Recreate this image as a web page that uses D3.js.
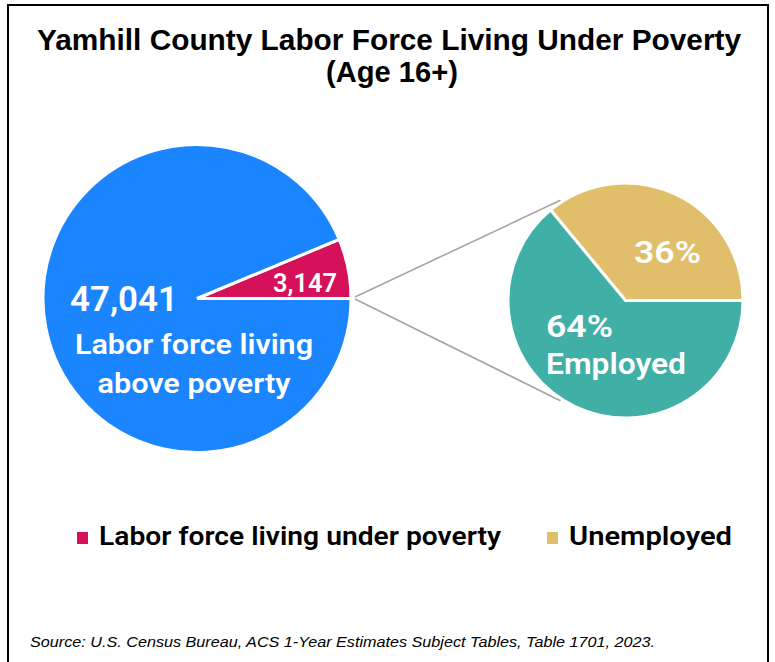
<!DOCTYPE html>
<html>
<head>
<meta charset="utf-8">
<script src="https://cdn.jsdelivr.net/npm/d3@7"></script>
<style>
  html, body { margin: 0; padding: 0; background: #fff; }
  svg { display: block; }
</style>
</head>
<body>
<script>
// ---- data ----
const mainCategories = ["Labor force living under poverty", "Labor force living above poverty"];
const mainValues = [3147, 47041];
const mainColors = ["#D41159", "#1A85FF"];

const subCategories = ["Unemployed", "Employed"];
const subValues = [36, 64];
const subColors = ["#E1BE6A", "#40B0A6"];

const legendItems = ["Labor force living under poverty", "Unemployed"];
const legendColors = ["#D41159", "#E1BE6A"];

const titleLines = ["Yamhill County Labor Force Living Under Poverty", "(Age 16+)"];
const sourceText = "Source: U.S. Census Bureau, ACS 1-Year Estimates Subject Tables, Table 1701, 2023.";

// ---- layout ----
const W = 775, H = 662;
const svg = d3.select("body").append("svg").attr("width", W).attr("height", H);

svg.append("rect").attr("x", 8).attr("y", 5).attr("width", 760).attr("height", 680)
  .attr("fill", "#fff").attr("stroke", "#000").attr("stroke-width", 2);

const labelFont = "Roboto, 'Noto Sans', sans-serif";

// title
svg.append("text").attr("x", 389).attr("y", 50)
  .attr("text-anchor", "middle").attr("font-family", "'Liberation Sans', Arial, sans-serif")
  .attr("font-weight", 700).attr("font-size", 29)
  .attr("textLength", 704).attr("lengthAdjust", "spacingAndGlyphs")
  .text(titleLines[0]);
svg.append("text").attr("x", 392).attr("y", 82)
  .attr("text-anchor", "middle").attr("font-family", "'Liberation Sans', Arial, sans-serif")
  .attr("font-weight", 700).attr("font-size", 29)
  .attr("textLength", 132).attr("lengthAdjust", "spacingAndGlyphs")
  .text(titleLines[1]);

// ---- main pie ----
const mainC = {x: 197, y: 298.5}, mainR = 154;
const mainTotal = d3.sum(mainValues);
const mainAngle = d3.scaleLinear().domain([0, mainTotal]).range([0, 2 * Math.PI]);
const redSpan = mainAngle(mainValues[0]);
// red slice ends at 3 o'clock (pi/2), going counter-clockwise
const mainPie = d3.pie().sort(null).value(d => d)
  .startAngle(Math.PI / 2 - redSpan).endAngle(Math.PI / 2 - redSpan + 2 * Math.PI);
const mainArcs = mainPie(mainValues);
const mainArc = d3.arc().innerRadius(0).outerRadius(mainR);

const gMain = svg.append("g").attr("transform", `translate(${mainC.x},${mainC.y})`);
gMain.selectAll("path").data(mainArcs).join("path")
  .attr("d", mainArc)
  .attr("fill", (d, i) => mainColors[i])
  .attr("stroke", "#fff").attr("stroke-width", 3).attr("stroke-linejoin", "miter");

// ---- sub pie ----
const subC = {x: 625.5, y: 300.5}, subR = 117.5;
const subPie = d3.pie().sort(null).value(d => d)
  .startAngle(Math.PI / 2 - 2 * Math.PI * subValues[0] / d3.sum(subValues))
  .endAngle(Math.PI / 2 - 2 * Math.PI * subValues[0] / d3.sum(subValues) + 2 * Math.PI);
const subArcs = subPie(subValues);
const subArc = d3.arc().innerRadius(0).outerRadius(subR);
const gSub = svg.append("g").attr("transform", `translate(${subC.x},${subC.y})`);
gSub.selectAll("path").data(subArcs).join("path")
  .attr("d", subArc)
  .attr("fill", (d, i) => subColors[i])
  .attr("stroke", "#fff").attr("stroke-width", 3);

// ---- connector lines ----
const connAngles = [-33 * Math.PI / 180, (180 + 33) * Math.PI / 180];
const connStartY = [-1.5, 0.5];
connAngles.forEach((a, i) => {
  svg.append("line")
    .attr("x1", mainC.x + mainR + 4).attr("y1", mainC.y + connStartY[i])
    .attr("x2", subC.x + (subR + 2) * Math.sin(a)).attr("y2", subC.y - (subR + 2) * Math.cos(a))
    .attr("stroke", "#A6A6A6").attr("stroke-width", 1.6);
});

// ---- labels ----
const fmt = d3.format(",");
function lbl(x, y, txt, size, len, anchor) {
  const t = svg.append("text").attr("x", x).attr("y", y)
    .attr("text-anchor", anchor || "start")
    .attr("font-family", labelFont).attr("font-weight", 600)
    .attr("font-size", size).attr("fill", "#fff").text(txt);
  if (len) t.attr("textLength", len).attr("lengthAdjust", "spacingAndGlyphs");
  return t;
}
lbl(mainC.x - 127, mainC.y + 12, fmt(mainValues[1]), 35, 108);
lbl(mainC.x - 3, mainC.y + 55, "Labor force living", 28, 238, "middle");
lbl(mainC.x - 3, mainC.y + 94, "above poverty", 28, 193, "middle");
lbl(mainC.x + 140, mainC.y - 7, fmt(mainValues[0]), 25, 64, "end");

lbl(subC.x + 8.5, subC.y - 38, subValues[0] + "%", 31, 67);
lbl(subC.x - 79.5, subC.y + 36, subValues[1] + "%", 32, 67);
lbl(subC.x - 79.5, subC.y + 73, subCategories[1], 30, 140);

// ---- legend ----
const legendX = [77, 547];
const legendLen = [402, 163];
legendItems.forEach((name, i) => {
  svg.append("rect").attr("x", legendX[i]).attr("y", 532).attr("width", 11).attr("height", 12)
    .attr("fill", legendColors[i]);
  svg.append("text").attr("x", legendX[i] + 22).attr("y", 545)
    .attr("font-family", labelFont).attr("font-weight", 600).attr("font-size", 26)
    .attr("fill", "#000")
    .attr("textLength", legendLen[i]).attr("lengthAdjust", "spacingAndGlyphs")
    .text(name);
});

// ---- source ----
svg.append("text").attr("x", 30).attr("y", 647)
  .attr("font-family", "'Liberation Sans', Arial, sans-serif").attr("font-style", "italic")
  .attr("font-size", 15).attr("fill", "#000")
  .attr("textLength", 625).attr("lengthAdjust", "spacingAndGlyphs")
  .text(sourceText);
</script>
</body>
</html>
